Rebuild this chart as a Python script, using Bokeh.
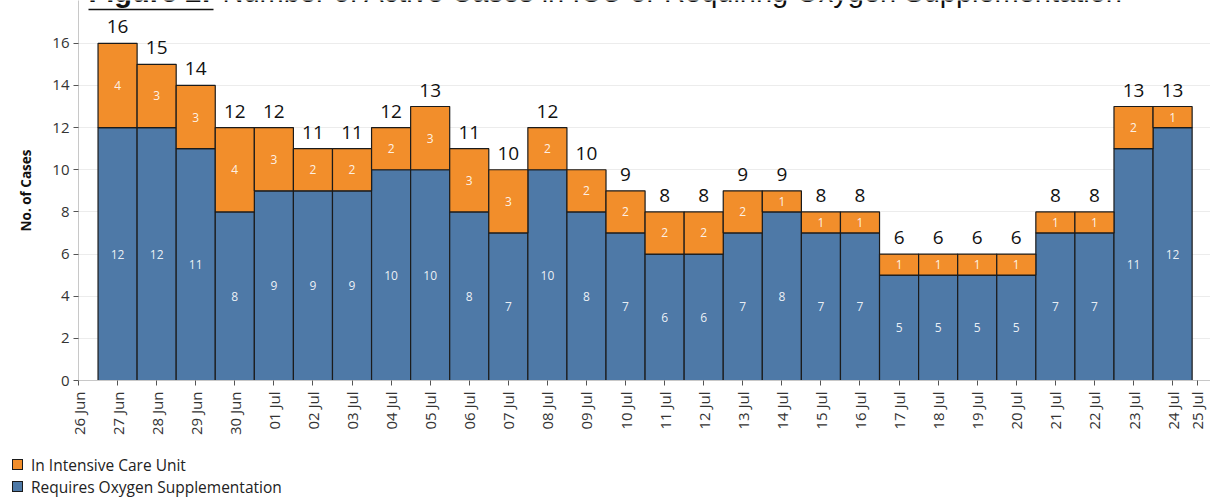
import datetime as dt
import math
from bokeh.plotting import figure
from bokeh.layouts import column
from bokeh.models import (Range1d, FixedTicker, CustomJSTickFormatter, Label, BoxAnnotation,
                          ColumnDataSource, Div)
from bokeh.core.properties import value
from bokeh.embed import file_html
from bokeh.resources import INLINE

# ---- data ----
dates = ["2020-06-27", "2020-06-28", "2020-06-29", "2020-06-30", "2020-07-01", "2020-07-02",
         "2020-07-03", "2020-07-04", "2020-07-05", "2020-07-06", "2020-07-07", "2020-07-08",
         "2020-07-09", "2020-07-10", "2020-07-11", "2020-07-12", "2020-07-13", "2020-07-14",
         "2020-07-15", "2020-07-16", "2020-07-17", "2020-07-18", "2020-07-19", "2020-07-20",
         "2020-07-21", "2020-07-22", "2020-07-23", "2020-07-24"]
oxygen = [12, 12, 11, 8, 9, 9, 9, 10, 10, 8, 7, 10, 8, 7, 6, 6, 7, 8, 7, 7, 5, 5, 5, 5, 7, 7, 11, 12]
icu = [4, 3, 3, 4, 3, 2, 2, 2, 3, 3, 3, 2, 2, 2, 2, 2, 2, 1, 1, 1, 1, 1, 1, 1, 1, 1, 2, 1]
y_ticks = [0, 2, 4, 6, 8, 10, 12, 14, 16]
series_names = ["In Intensive Care Unit", "Requires Oxygen Supplementation"]
title_bold = "Figure 2:"
title_rest = "Number of Active Cases in ICU or Requiring Oxygen Supplementation"
y_label = "No. of Cases"

# ---- derived ----
DAY = 86400000
EPOCH = dt.datetime(1970, 1, 1)
xs = [dt.datetime.strptime(d, "%Y-%m-%d") for d in dates]
totals = [a + b for a, b in zip(oxygen, icu)]
src = ColumnDataSource(dict(
    x=xs, oxy=oxygen, icu=icu, total=totals,
    oxy_mid=[o / 2 for o in oxygen],
    icu_mid=[o + i / 2 for o, i in zip(oxygen, icu)],
    oxy_txt=[str(o) for o in oxygen], icu_txt=[str(i) for i in icu],
    tot_txt=[str(t) for t in totals],
))

ORANGE = "#f28e2b"
BLUE = "#4e79a7"
EDGE = "#1b1b1b"
FONT = "Open Sans"

start = xs[0] - dt.timedelta(days=1)
end = start + dt.timedelta(days=28.97)

p = figure(width=1210, height=440, output_backend="svg", toolbar_location=None,
           x_axis_type="datetime",
           x_range=Range1d(start, end), y_range=Range1d(0, 18.03),
           min_border_left=78, min_border_right=0, min_border_top=0, min_border_bottom=60)
p.outline_line_color = None
p.background_fill_color = "white"

ox = p.vbar(x="x", width=DAY, bottom=0, top="oxy", source=src, fill_color=BLUE,
            line_color=EDGE, line_width=1.2)
ic = p.vbar(x="x", width=DAY, bottom="oxy", top="total", source=src, fill_color=ORANGE,
            line_color=EDGE, line_width=1.2)

p.text(x="x", y="oxy_mid", text="oxy_txt", source=src, text_align="center",
       text_baseline="middle", text_color="white", text_alpha=0.9,
       text_font=value(FONT), text_font_size="12px")
p.text(x="x", y="icu_mid", text="icu_txt", source=src, text_align="center",
       text_baseline="middle", text_color="white", text_alpha=0.9,
       text_font=value(FONT), text_font_size="12px")
p.text(x="x", y="total", text="tot_txt", source=src, text_align="center",
       text_baseline="bottom", y_offset=-10, text_color="#111111",
       text_font=value(FONT), text_font_size="19px")

# axes
day_ticks = [((start + dt.timedelta(days=k)) - EPOCH).total_seconds() * 1000 for k in range(0, 29)]
edge_tick = ((start + dt.timedelta(days=28.63)) - EPOCH).total_seconds() * 1000
p.xaxis.ticker = FixedTicker(ticks=day_ticks + [edge_tick])
p.xaxis.formatter = CustomJSTickFormatter(code="""
const d = new Date(Math.round(tick / 86400000) * 86400000);
const m = ["Jan","Feb","Mar","Apr","May","Jun","Jul","Aug","Sep","Oct","Nov","Dec"][d.getUTCMonth()];
return String(d.getUTCDate()).padStart(2, "0") + " " + m;
""")
p.xaxis.major_label_orientation = math.pi / 2
p.xaxis.major_label_text_font = FONT
p.xaxis.major_label_text_font_size = "15px"
p.xaxis.major_label_text_color = "#333333"
p.xaxis.major_tick_out = 5
p.xaxis.major_tick_in = 0
p.xaxis.minor_tick_line_color = None
p.xaxis.major_tick_line_color = "#555555"
p.xaxis.axis_line_color = "#c8c8c8"
p.xaxis.major_label_standoff = 6

p.yaxis.ticker = FixedTicker(ticks=y_ticks)
p.yaxis.major_label_text_font = FONT
p.yaxis.major_label_text_font_size = "15px"
p.yaxis.major_label_text_color = "#333333"
p.yaxis.major_tick_out = 5
p.yaxis.major_tick_in = 0
p.yaxis.minor_tick_line_color = None
p.yaxis.major_tick_line_color = "#555555"
p.yaxis.axis_line_color = "#c8c8c8"
p.yaxis.major_label_standoff = 4
p.yaxis.axis_label = y_label
p.yaxis.axis_label_text_font = FONT
p.yaxis.axis_label_text_font_style = "bold"
p.yaxis.axis_label_text_font_size = "13.5px"
p.yaxis.axis_label_text_color = "#111111"
p.yaxis.axis_label_standoff = 14

p.xgrid.grid_line_color = None
p.ygrid.grid_line_color = "#ececec"

# title (cut at the top edge like the reference)
p.add_layout(Label(x=10, y=373, x_units="screen", y_units="screen", text=title_bold,
                   text_font="Liberation Sans", text_font_style="bold",
                   text_font_size="29px", text_baseline="bottom", text_color="#111111"))
p.add_layout(BoxAnnotation(left=10, right=135, bottom=370.3, top=371.8,
                           left_units="screen", right_units="screen",
                           bottom_units="screen", top_units="screen",
                           fill_color="#111111", fill_alpha=1, line_color=None))
p.add_layout(Label(x=144, y=373, x_units="screen", y_units="screen", text=title_rest,
                   text_font="Liberation Sans", text_font_size="29px",
                   text_baseline="bottom", text_color="#111111"))

# legend strip below the chart (HTML, real text)
def swatch(color, top):
    return (f'<div style="position:absolute;left:12px;top:{top}px;width:11px;height:11px;'
            f'background:{color};border:1px solid {EDGE};"></div>')

def entry(text, top):
    return (f'<div style="position:absolute;left:31px;top:{top}px;line-height:20px;'
            f'white-space:nowrap;">{text}</div>')

legend_html = (
    '<div style="position:relative;width:1210px;height:57px;font-family:\'Open Sans\';'
    'font-size:15.5px;color:#222222;">'
    + swatch(ORANGE, 19) + entry(series_names[0], 15)
    + swatch(BLUE, 41) + entry(series_names[1], 37)
    + '</div>'
)
legend_div = Div(text=legend_html, width=1210, height=57, margin=0)

layout = column(p, legend_div, spacing=0)
open("out.html", "w").write(file_html(layout, INLINE))
